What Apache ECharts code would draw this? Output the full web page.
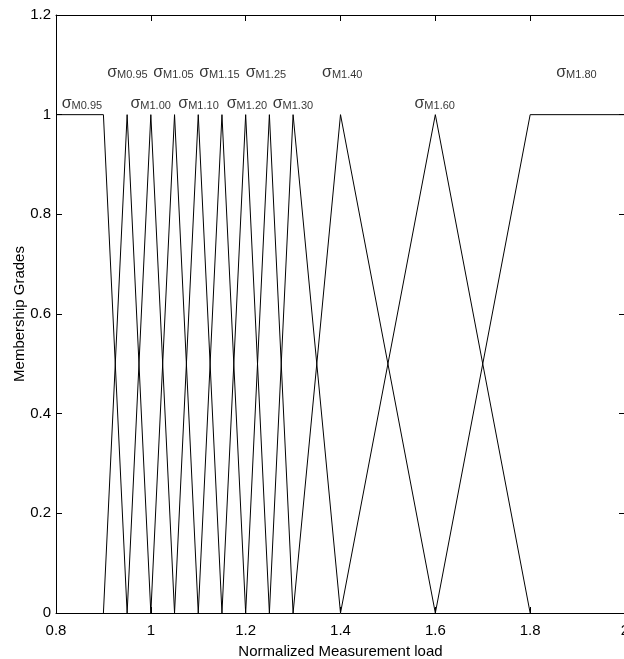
<!DOCTYPE html>
<html>
<head>
<meta charset="utf-8">
<script src="https://cdn.jsdelivr.net/npm/echarts@6/dist/echarts.min.js"></script>
<style>
  html, body { margin: 0; padding: 0; background: #ffffff; }
  #chart { width: 624px; height: 659px; }
</style>
</head>
<body>
<div id="chart"></div>
<script>
// Membership functions of the normalized measurement load (breakpoints: [load, grade])
const leftShoulder = [[0.80, 1], [0.90, 1], [0.95, 0]];
// Triangular functions: [left foot, peak, right foot]
const triangles = [
  [0.90, 0.95, 1.00],
  [0.95, 1.00, 1.05],
  [1.00, 1.05, 1.10],
  [1.05, 1.10, 1.15],
  [1.10, 1.15, 1.20],
  [1.15, 1.20, 1.25],
  [1.20, 1.25, 1.30],
  [1.25, 1.30, 1.40],
  [1.30, 1.40, 1.60],
  [1.40, 1.60, 1.80]
];
const rightShoulder = [[1.60, 0], [1.80, 1], [2.00, 1]];

// Text annotations (subscripts of sigma) and their anchor points in data units
const labelSubs = ['M0.95', 'M0.95', 'M1.00', 'M1.05', 'M1.10', 'M1.15',
                   'M1.20', 'M1.25', 'M1.30', 'M1.40', 'M1.60', 'M1.80'];
const labelAnchors = [
  [0.812, 1.022], [0.908, 1.085], [0.957, 1.022], [1.005, 1.085],
  [1.058, 1.022], [1.102, 1.085], [1.160, 1.022], [1.200, 1.085],
  [1.257, 1.022], [1.361, 1.085], [1.556, 1.022], [1.855, 1.085]
];

// Axis ranges
const xRange = [0.8, 2.0];
const yRange = [0, 1.2];
const tickStep = 0.2;

const FONT = '"Liberation Sans", Arial, Helvetica, sans-serif';

const curves = [leftShoulder]
  .concat(triangles.map(t => [[t[0], 0], [t[1], 1], [t[2], 0]]))
  .concat([rightShoulder]);

const lineSeries = curves.map(pts => ({
  type: 'line',
  data: pts,
  symbol: 'none',
  silent: true,
  animation: false,
  lineStyle: { color: '#000000', width: 1 }
}));

const labelSeries = {
  type: 'scatter',
  symbolSize: 0,
  silent: true,
  animation: false,
  clip: false,
  data: labelAnchors.map((p, i) => ({ value: p, sub: labelSubs[i] })),
  label: {
    show: true,
    position: 'right',
    distance: 0,
    formatter: p => '{s|σ}{b|' + p.data.sub + '}',
    rich: {
      s: { fontFamily: FONT, fontSize: 16, lineHeight: 16, color: '#000', verticalAlign: 'middle' },
      b: { fontFamily: FONT, fontSize: 11, lineHeight: 11, color: '#000',
           verticalAlign: 'bottom', padding: [16, 0, 0, 0] }
    }
  }
};

const tickFmt = v => String(+(+v).toFixed(1));

const axisCommon = {
  type: 'value',
  interval: tickStep,
  splitLine: { show: false },
  axisLine: { show: true, onZero: false, lineStyle: { color: '#000', width: 1 } },
  axisTick: { show: true, inside: true, length: 6, lineStyle: { color: '#000', width: 1 } }
};

const chart = echarts.init(document.getElementById('chart'), null, { renderer: 'canvas' });
chart.setOption({
  backgroundColor: '#ffffff',
  animation: false,
  grid: { left: 56, top: 15, right: -1, bottom: 46, containLabel: false, outerBoundsMode: 'none' },
  xAxis: [
    Object.assign({}, axisCommon, {
      position: 'bottom',
      min: xRange[0], max: xRange[1],
      name: 'Normalized Measurement load',
      nameLocation: 'middle',
      nameGap: 31,
      nameMoveOverlap: false,
      nameTextStyle: { fontFamily: FONT, fontSize: 15, color: '#000' },
      axisLabel: { fontFamily: FONT, fontSize: 15, color: '#000', margin: 10,
                   formatter: tickFmt, showMaxLabel: true, showMinLabel: true }
    }),
    Object.assign({}, axisCommon, {
      position: 'top',
      min: xRange[0], max: xRange[1],
      axisLabel: { show: false }
    })
  ],
  yAxis: [
    Object.assign({}, axisCommon, {
      position: 'left',
      min: yRange[0], max: yRange[1],
      name: 'Membership Grades',
      nameLocation: 'middle',
      nameGap: 29,
      nameMoveOverlap: false,
      nameTextStyle: { fontFamily: FONT, fontSize: 15, color: '#000' },
      axisLabel: { fontFamily: FONT, fontSize: 15, color: '#000', margin: 5,
                   formatter: tickFmt }
    }),
    Object.assign({}, axisCommon, {
      position: 'right',
      min: yRange[0], max: yRange[1],
      axisLabel: { show: false }
    })
  ],
  series: lineSeries.concat([labelSeries])
});
</script>
</body>
</html>
